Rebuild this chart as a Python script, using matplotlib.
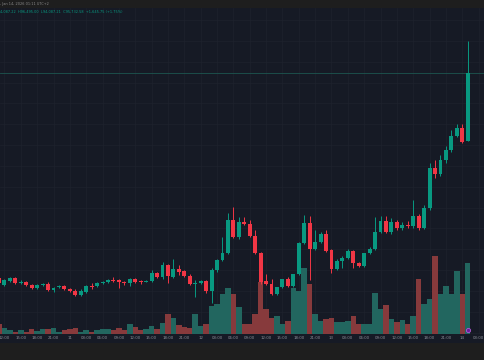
import numpy as np
import matplotlib
matplotlib.use("Agg")
import matplotlib.pyplot as plt
from matplotlib.patches import Rectangle

# hourly candles, first one is Jan 10 11:00
opens = [90808, 90640, 90736, 90808, 90695, 90712, 90640, 90568, 90640, 90664,
         90520, 90592, 90616, 90544, 90496, 90400, 90472, 90616, 90616, 90688,
         90712, 90760, 90760, 90712, 90688, 90784, 90736, 90724, 90736, 90928,
         90832, 91120, 90832, 91024, 90976, 90856, 90664, 90688, 90736, 90496,
         91000, 91240, 91408, 92200, 91792, 92152, 92104, 91816, 91408, 90736,
         90664, 90424, 90592, 90784, 90616, 90904, 91648, 92128, 91504, 91672,
         91864, 91480, 91024, 91216, 91288, 91456, 91168, 91096, 91408, 91504,
         91912, 92176, 91912, 92152, 92008, 92080, 92056, 92296, 92008, 92488,
         93448, 93304, 93640, 93880, 94216, 94415, 94087.22]
highs = [90856, 90784, 90832, 90832, 90760, 90736, 90664, 90664, 90688, 90712,
         90592, 90640, 90640, 90568, 90544, 90544, 90640, 90688, 90712, 90736,
         90784, 90832, 90784, 90736, 90808, 90808, 90760, 90760, 91000, 90952,
         91192, 91144, 91264, 91120, 91000, 90904, 90760, 90760, 90760, 91048,
         91264, 91792, 92368, 92512, 92272, 92272, 92200, 91960, 91432, 90904,
         90784, 90592, 90784, 90832, 90904, 91672, 92320, 92296, 91960, 91912,
         91960, 91504, 91264, 91336, 91504, 91480, 91192, 91408, 91552, 92272,
         92296, 92296, 92248, 92200, 92152, 92176, 92680, 92344, 92560, 93568,
         93640, 93760, 93976, 94360, 94504, 94504, 96495.00]
lows = [90640, 90616, 90712, 90664, 90664, 90616, 90544, 90544, 90616, 90496,
        90472, 90568, 90520, 90472, 90376, 90376, 90448, 90544, 90592, 90664,
        90688, 90712, 90568, 90640, 90616, 90688, 90664, 90712, 90712, 90808,
        90784, 90688, 90808, 90880, 90832, 90640, 90352, 90664, 90448, 90208,
        90952, 91216, 91384, 91768, 91744, 92080, 91792, 91384, 90664, 90640,
        90400, 90400, 90568, 90592, 90592, 90880, 91624, 90760, 91480, 91648,
        91432, 90928, 91000, 91048, 91264, 91048, 91072, 91072, 91384, 91480,
        91888, 91888, 91864, 91960, 91960, 92008, 92008, 91960, 91984, 92440,
        93208, 93256, 93568, 93832, 94192, 94048, 94087.21]
closes = [90688, 90760, 90808, 90688, 90712, 90640, 90568, 90640, 90664, 90520,
          90568, 90616, 90544, 90496, 90400, 90496, 90616, 90604, 90688, 90712,
          90760, 90736, 90712, 90688, 90784, 90712, 90724, 90736, 90928, 90832,
          91120, 90856, 91024, 90952, 90856, 90664, 90688, 90736, 90496, 91000,
          91240, 91408, 92200, 91792, 92152, 92104, 91816, 91408, 90712, 90664,
          90424, 90592, 90784, 90616, 90904, 91648, 92128, 91504, 91672, 91864,
          91456, 91024, 91216, 91288, 91456, 91168, 91096, 91408, 91504, 91912,
          92176, 91912, 92152, 92008, 92080, 92056, 92296, 92008, 92488, 93448,
          93304, 93640, 93880, 94216, 94415, 94079, 95732.58]
volumes = [250, 150, 100, 50, 100, 50, 125, 75, 125, 125,
           150, 50, 100, 125, 150, 50, 100, 50, 100, 125,
           125, 100, 150, 100, 250, 175, 100, 125, 200, 125,
           275, 500, 400, 225, 175, 150, 500, 200, 250, 700,
           750, 1000, 1150, 1000, 675, 250, 250, 500, 1300, 625,
           400, 450, 250, 325, 1150, 1075, 1650, 1250, 500, 325,
           375, 400, 300, 300, 325, 450, 250, 250, 250, 1025,
           625, 725, 375, 300, 350, 250, 450, 1375, 750, 875,
           1950, 1000, 1200, 1000, 1575, 1000, 1775]

tick_idx = list(range(1, 89, 3))
tick_txt = ["12:00", "15:00", "18:00", "21:00", "11", "03:00", "06:00", "09:00",
            "12:00", "15:00", "18:00", "21:00", "12", "03:00", "06:00", "09:00",
            "12:00", "15:00", "18:00", "21:00", "13", "03:00", "06:00", "09:00",
            "12:00", "15:00", "18:00", "21:00", "14", "03:00"]

header = ", Jan 14, 2026 01:11 UTC+2"
ohlc_line = "4,087.22  H96,495.00  L94,087.21  C95,732.58  +1,645.75 (+1.75%)"

BG = "#161a25"
UP = "#089981"
DOWN = "#f23645"
PMIN, PMAX = 89464, 97288

opens = np.array(opens)
highs = np.array(highs)
lows = np.array(lows)
closes = np.array(closes)
volumes = np.array(volumes)
x = np.arange(len(opens))
up = closes >= opens

fig = plt.figure(figsize=(4.85, 3.6), dpi=100)
fig.patch.set_facecolor("#1e1e1e")
fig.patches.append(Rectangle((0, 17 / 360), 1, 335 / 360, transform=fig.transFigure,
                             facecolor=BG, edgecolor="none", zorder=-10))

ax = fig.add_axes([0, 26 / 360, 1, 326 / 360])
ax2 = ax.twinx()
ax2.set_facecolor(BG)
ax.set_zorder(ax2.get_zorder() + 1)
ax.patch.set_visible(False)

# grid goes on the volume axes so bars sit on top of it
for t in tick_idx:
    ax2.axvline(t, color="#1e222d", lw=0.5, zorder=0)
for p in np.arange(89500, 97500, 500):
    f = (p - PMIN) / (PMAX - PMIN)
    ax2.plot([0, 1], [f, f], transform=ax2.transAxes, color="#1e222d", lw=0.5, zorder=0)

# volume
vcol = np.where(up, "#22665f", "#873a3c")
ax2.bar(x, volumes, width=1.0, color=vcol, edgecolor="none", zorder=1)
ax2.set_ylim(-12, 8150)

# candles
col = np.where(up, UP, DOWN)
ax.vlines(x, lows, highs, color=col, lw=0.7, zorder=2)
body = np.maximum(np.abs(closes - opens), 20)
ax.bar(x, body, bottom=np.minimum(opens, closes), width=0.72, color=col,
       edgecolor="none", zorder=3)

ax.axhline(closes[-1], color="#1d5550", lw=0.6, zorder=1)

ax.set_xlim(0.183, 89.17)
ax.set_ylim(PMIN, PMAX)
ax.set_xticks(tick_idx)
ax.set_xticklabels(tick_txt)
ax.tick_params(axis="x", length=0, pad=1.2, labelsize=2.8, labelcolor="#8a8d96")
ax.set_yticks([])
ax2.set_yticks([])
for a in (ax, ax2):
    for s in a.spines.values():
        s.set_visible(False)

ax.scatter([86], [PMIN + 4 * 24], s=9, facecolor="#6a1b9a", edgecolor="#b05cd6",
           lw=0.6, zorder=5, clip_on=False)

fig.text(0.0, 356 / 360, header, fontsize=2.5, color="#8a8a8a", va="center")
fig.text(0.0, 348 / 360, ohlc_line, fontsize=2.5, color=UP, va="center")

fig.savefig("out.png", dpi=100, facecolor=fig.get_facecolor())
